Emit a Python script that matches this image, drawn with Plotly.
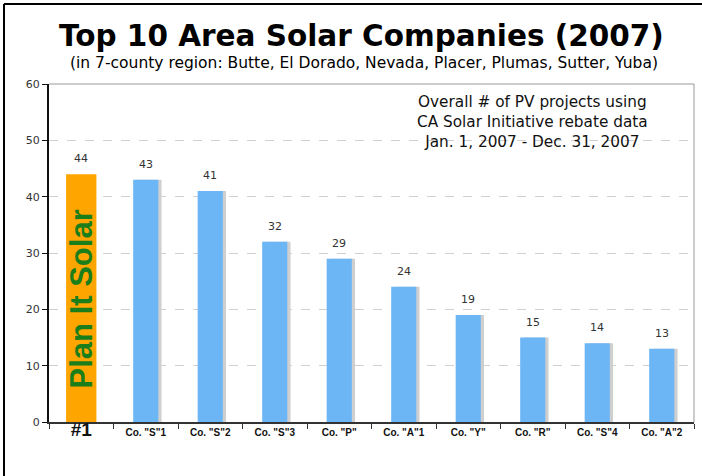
import plotly.graph_objects as go

categories = ['#1', 'Co. "S"1', 'Co. "S"2', 'Co. "S"3', 'Co. "P"', 'Co. "A"1',
              'Co. "Y"', 'Co. "R"', 'Co. "S"4', 'Co. "A"2']
values = [44, 43, 41, 32, 29, 24, 19, 15, 14, 13]
tick_labels = ['<b><span style="font-size:19px">#1</span></b>'] + [f'<b>{c}</b>' for c in categories[1:]]
y_ticks = [0, 10, 20, 30, 40, 50, 60]

colors = ['#FFA500'] + ['#6DB6F5'] * 9
widths = [0.47] + [0.39] * 9
shadow_colors = ['rgba(0,0,0,0)'] + ['#cfcfcf'] * 9

fig = go.Figure()
# soft shadow behind blue bars
fig.add_trace(go.Bar(
    x=categories, y=values, width=widths, offset=[-w / 2 + 0.05 for w in widths],
    marker=dict(color=shadow_colors, line=dict(width=0)),
    showlegend=False, hoverinfo='skip',
))
fig.add_trace(go.Bar(
    x=categories, y=values, width=widths, offset=[-w / 2 for w in widths],
    marker=dict(color=colors, line=dict(width=0)),
    showlegend=False,
))

PW, PH = 645, 338
annotations = [
    dict(text='<b>Top 10 Area Solar Companies (2007)</b>', xref='paper', yref='paper',
         x=(361 - 49) / PW, y=1 + (84 - 36) / PH, xanchor='center', yanchor='middle', showarrow=False,
         font=dict(family='DejaVu Sans', size=29.5, color='#000000')),
    dict(text='(in 7-county region: Butte, El Dorado, Nevada, Placer, Plumas, Sutter, Yuba)',
         xref='paper', yref='paper', x=(364 - 49) / PW, y=1 + (84 - 63) / PH, xanchor='center',
         yanchor='middle', showarrow=False,
         font=dict(family='DejaVu Sans', size=15.5, color='#000000')),
    dict(text='Overall # of PV projects using<br>CA Solar Initiative rebate data<br>Jan. 1, 2007 - Dec. 31, 2007',
         xref='paper', yref='paper', x=(532 - 49) / PW, y=1 - (122 - 84) / PH,
         xanchor='center', yanchor='middle', showarrow=False, align='center',
         font=dict(family='DejaVu Sans', size=15.3, color='#111111')),
    dict(text='<b>Plan It Solar</b>', x=categories[0], y=21.8, textangle=-90,
         showarrow=False, xanchor='center', yanchor='middle',
         font=dict(family='Liberation Sans', size=31, color='#1A7F1A')),
]
for c, v in zip(categories, values):
    annotations.append(dict(text=str(v), x=c, y=v, yanchor='bottom', yshift=7, showarrow=False,
                            font=dict(family='DejaVu Sans', size=11, color='#333333')))

fig.update_layout(
    width=702, height=476,
    margin=dict(l=49, r=8, t=84, b=54),
    paper_bgcolor='white', plot_bgcolor='white',
    font=dict(family='DejaVu Sans'),
    barmode='overlay',
    xaxis=dict(
        tickmode='array', tickvals=categories, ticktext=tick_labels,
        tickfont=dict(family='Liberation Sans', size=10, color='#111111'),
        showline=True, linecolor='#333333', linewidth=2,
        ticks='outside', tickson='boundaries', ticklen=5, tickcolor='#333333',
        showgrid=False, range=[-0.5, 9.5],
    ),
    yaxis=dict(
        range=[0, 60], tickvals=y_ticks,
        tickfont=dict(family='DejaVu Sans', size=11, color='#333333'),
        showline=True, linecolor='#111111', linewidth=2,
        ticks='outside', ticklen=5, tickcolor='#111111',
        showgrid=True, gridcolor='#d0d0d0', griddash='dash', gridwidth=1,
        zeroline=False,
    ),
    shapes=[
        dict(type='line', xref='paper', yref='paper', x0=0, x1=1, y0=1, y1=1,
             line=dict(color='#999999', width=1)),
        dict(type='line', xref='paper', yref='paper', x0=1, x1=1, y0=0, y1=1,
             line=dict(color='#999999', width=1)),
        dict(type='line', xref='paper', yref='paper', x0=(4 - 49) / PW, x1=(4 - 49) / PW,
             y0=-0.2, y1=1 + (84 - 4) / PH, line=dict(color='#000000', width=2)),
        dict(type='line', xref='paper', yref='paper', x0=(4 - 49) / PW, x1=1.02,
             y0=1 + (84 - 4) / PH, y1=1 + (84 - 4) / PH, line=dict(color='#000000', width=2)),
    ],
    annotations=annotations,
)

fig.write_html('out.html', config={'displayModeBar': False},
               post_script="document.body.style.margin='0';document.body.style.overflow='hidden';")
